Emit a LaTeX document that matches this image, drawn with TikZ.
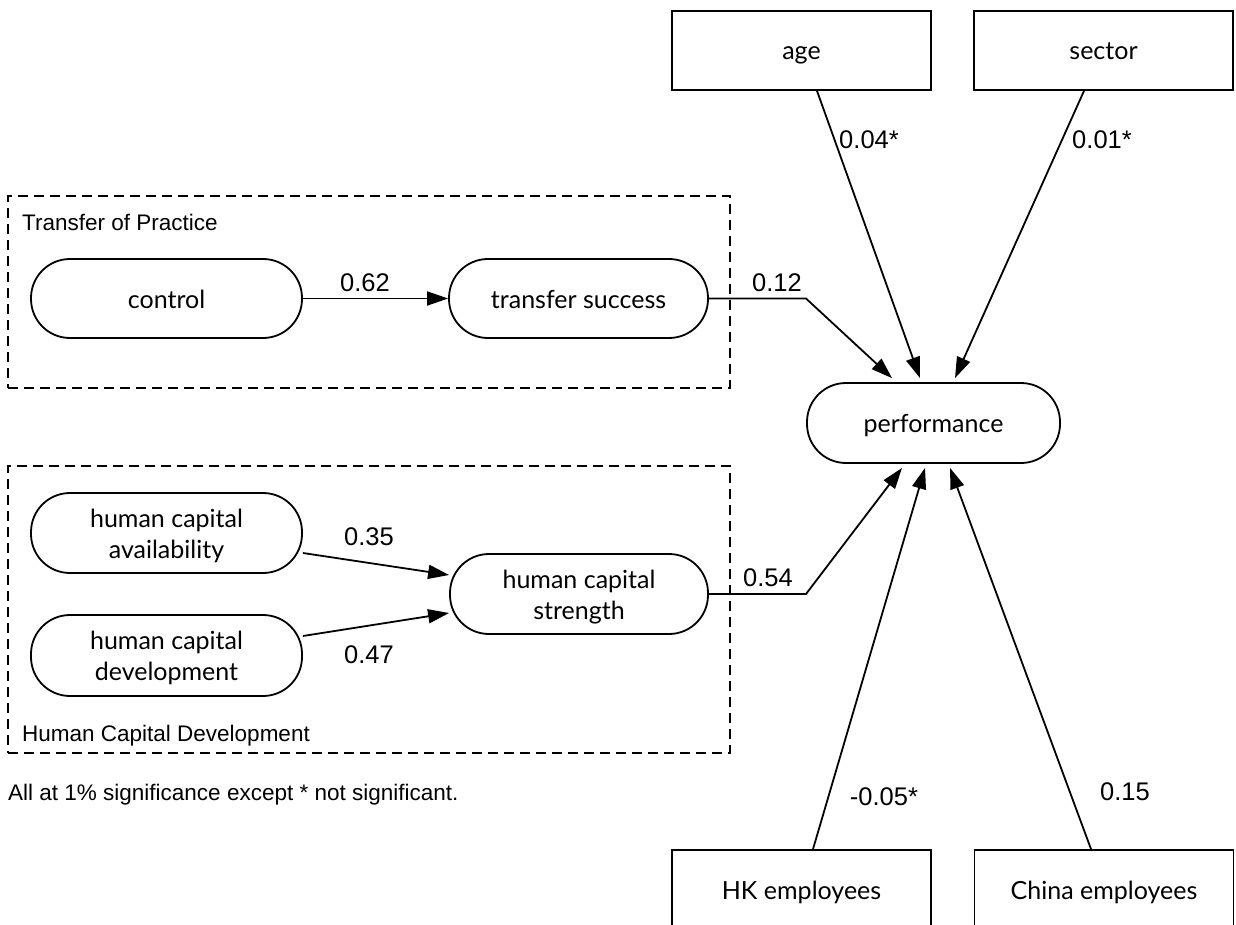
\documentclass[tikz,border=0pt]{standalone}
\usepackage{fontspec}
\setmainfont{Lato}
\newfontfamily\numfont{Liberation Sans}
\usetikzlibrary{arrows.meta}
\begin{document}
\begin{tikzpicture}[x=1pt,y=-1pt,
  pill/.style={draw, line width=1.8pt, rounded corners=39pt, inner sep=0pt, align=center, text height=25pt, text depth=6pt, font=\fontsize{25}{31}\selectfont},
  pilltwo/.style={pill, text height=56pt},
  obs/.style={draw, line width=1.8pt, inner sep=0pt, text height=25pt, text depth=6pt, font=\fontsize{25}{31}\selectfont},
  grp/.style={draw, dash pattern=on 10pt off 6pt, line width=1.6pt, inner sep=0pt},
  coef/.style={font=\numfont\fontsize{25.5}{30}\selectfont, inner sep=0pt},
  small/.style={font=\numfont\fontsize{22.5}{27}\selectfont, inner sep=0pt, anchor=base west},
  arr/.style={line width=1.8pt, -{Triangle[length=21pt,width=14pt]}},
]
\useasboundingbox (0,0) rectangle (1236,925);
\clip (0,0) rectangle (1236,925);

% group frames
\node[grp, minimum width=722pt, minimum height=192pt] (gtop) at (369,292) {};
\node[grp, minimum width=722pt, minimum height=287pt] (gbot) at (369,609.5) {};
\node[small] (ltop) at (22,231) {Transfer of Practice};
\node[small] (lbot) at (22,741) {Human Capital Development};
\node[small] (note) at (8,800) {All at 1\% significance except * not significant.};

% nodes
\node[pill, minimum width=271pt, minimum height=79pt] (ctrl) at (166.5,298.5) {control};
\node[pill, minimum width=259pt, minimum height=79pt] (ts) at (578.5,298.5) {transfer success};
\node[pill, minimum width=253pt, minimum height=80pt] (perf) at (933.5,423) {performance};
\node[pilltwo, minimum width=271pt, minimum height=80pt] (hca) at (166.5,533) {human capital\\availability};
\node[pilltwo, minimum width=271pt, minimum height=81pt] (hcd) at (166.5,655.5) {human capital\\development};
\node[pilltwo, minimum width=258pt, minimum height=80pt] (hcs) at (579,594) {human capital\\strength};

\node[obs, minimum width=259pt, minimum height=79pt] (age) at (801.5,50.5) {age};
\node[obs, minimum width=259pt, minimum height=79pt] (sector) at (1103.5,50.5) {sector};
\node[obs, minimum width=259pt, minimum height=79pt] (hk) at (801.5,889.5) {HK employees};
\node[obs, minimum width=259pt, minimum height=79pt] (china) at (1104,889.5) {China employees};

% bends
\coordinate (k1) at (806,298.5);
\coordinate (k2) at (806,594);

% connectors
\draw[arr] (ctrl.east) -- (ts.west);
\draw[arr] (ts.east) -- (k1) -- ([xshift=-41.5pt,yshift=4pt]perf.north);
\draw[arr] ([xshift=15.5pt]age.south) -- ([xshift=-13.5pt,yshift=4pt]perf.north);
\draw[arr] ([xshift=-19.5pt]sector.south) -- ([xshift=21.5pt,yshift=4pt]perf.north);
\draw[arr] ([yshift=-20pt]hca.east) -- ([yshift=19pt]hcs.west);
\draw[arr] ([yshift=19.5pt]hcd.east) -- ([yshift=-19pt]hcs.west);
\draw[arr] (hcs.east) -- (k2) -- ([xshift=-31.5pt,yshift=-4pt]perf.south);
\draw[arr] ([xshift=11.5pt]hk.north) -- ([xshift=-8.5pt,yshift=-4pt]perf.south);
\draw[arr] ([xshift=-13pt]china.north) -- ([xshift=16.5pt,yshift=-4pt]perf.south);

% coefficients
\node[coef] (c62) at (365,283) {0.62};
\node[coef] (c12) at (777,283) {0.12};
\node[coef] (c04) at (869,140) {0.04*};
\node[coef] (c01) at (1102,140) {0.01*};
\node[coef] (c35) at (369,537) {0.35};
\node[coef] (c47) at (369,655) {0.47};
\node[coef] (c54) at (768,578) {0.54};
\node[coef] (c05) at (884,797) {-0.05*};
\node[coef] (c15) at (1125,792) {0.15};
\end{tikzpicture}
\end{document}
